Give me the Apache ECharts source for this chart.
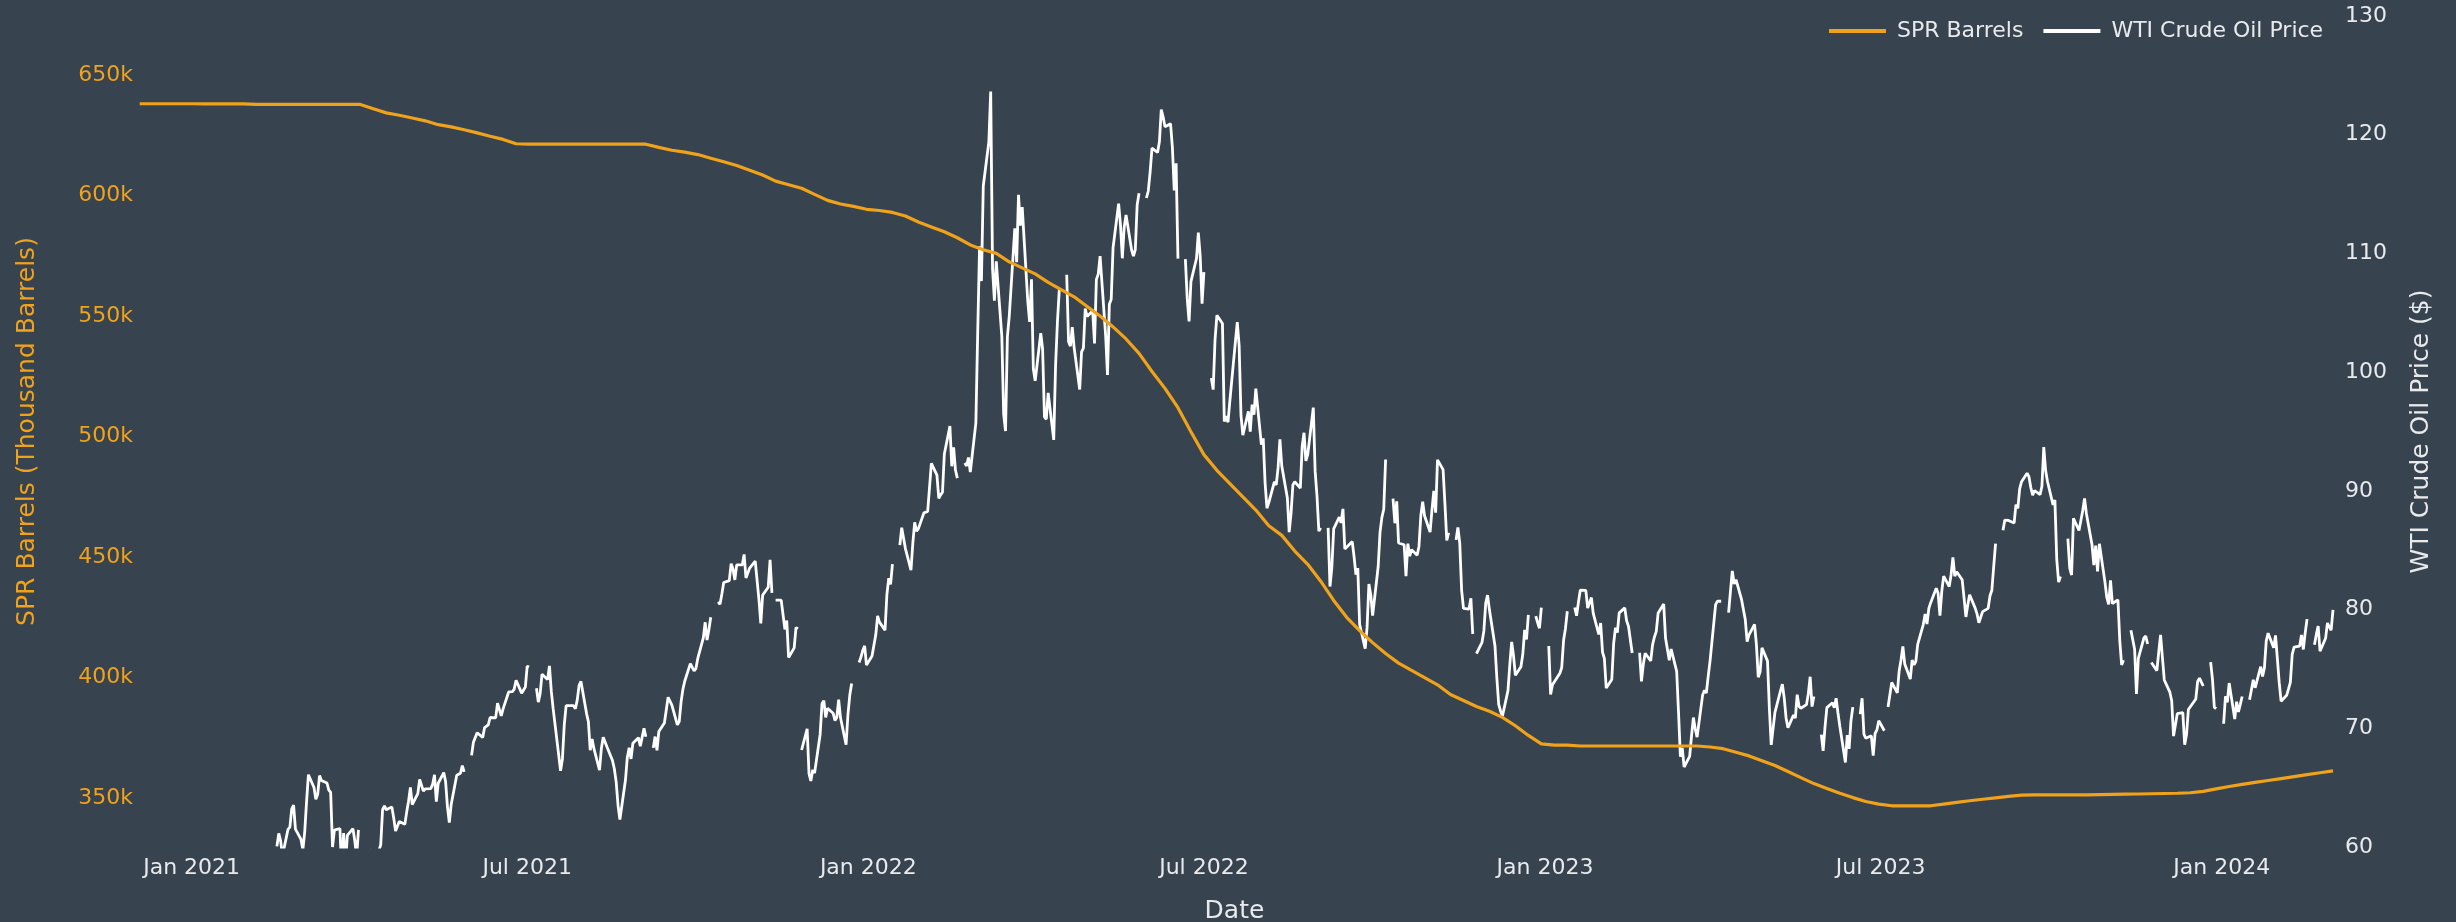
<!DOCTYPE html>
<html>
<head>
<meta charset="utf-8">
<script src="https://cdn.jsdelivr.net/npm/echarts@6/dist/echarts.min.js"></script>
<style>
html,body{margin:0;padding:0;background:#37434f;}
#chart{width:2456px;height:922px;}
</style>
</head>
<body>
<div id="chart"></div>
<script>
// ---------- axis ticks ----------
const xTickDates  = ['2021-01-01','2021-07-01','2022-01-01','2022-07-01','2023-01-01','2023-07-01','2024-01-01'];
const xTickLabels = ['Jan 2021','Jul 2021','Jan 2022','Jul 2022','Jan 2023','Jul 2023','Jan 2024'];
const sprTicks   = [350000,400000,450000,500000,550000,600000,650000];
const priceTicks = [60,70,80,90,100,110,120,130];
const xRange = ['2020-12-02','2024-03-01'];

// ---------- SPR stocks, weekly (Fridays), thousand barrels ----------
const sprStart = '2020-12-04';
const spr2020 = [638100,638100,638100,638100];
const spr2021 = [638100,638000,638000,638000,638000,
  637800,637800,637800,637800, 637800,637800,637800,637800,
  637800,636000,634300,633300,632200, 631000,629400,628500,627300,
  626000,624600,623300,621500, 621300,621300,621300,621300,621300,
  621300,621300,621300,621300, 621300,620000,618800,618000,
  617000,615500,614000,612500,610500, 608500,606000,604500,603000,
  600500,598000,596500,595500,594300];
const spr2022 = [593800,593000,591500,589000, 587000,585000,582500,579500,
  577500,576000,572500,570000, 567500,564000,561000,558000,554000,
  550000,545500,540500,534500, 527000,520000,512000,502000,
  492500,486000,480500,475000,469500, 463000,459000,452500,447000,
  440000,432000,425000,419500,414500, 410000,406000,403000,400000,
  397000,393000,390500,388000, 386000,383500,380000,376000,372500];
const spr2023 = [372000,372000,371600,371600, 371600,371600,371600,371600,
  371600,371600,371600,371600,371200, 370500,369000,367500,365500,
  363500,361000,358500,356000, 354000,352000,350200,348600,347500,
  346800,346800,346800,346800, 347500,348200,348900,349500,
  350100,350700,351200,351300,351300, 351300,351300,351300,351400,
  351500,351600,351700,351800, 351900,352000,352200,352800,353800];
const spr2024 = [354800,355700,356500,357300, 358100,358900,359700,360500, 361300];

// ---------- WTI daily price ($), business days Mon-Fri, null = no quote ----------
const wtiStart = '2021-02-01';
const wti2021 = [
  53.55,54.76,55.69,56.22,56.85, 57.97,58.36,58.68,58.24,59.47, null,60.05,61.14,60.52,59.26, 61.49,61.67,63.22,63.53,61.50,
  60.64,59.75,61.28,63.83,66.09, 65.01,64.01,64.44,66.02,65.61, 65.39,64.80,64.60,60.00,61.42, 61.56,57.76,61.18,58.56,60.97,
  61.55,60.55,59.16,61.45,null, 58.65,59.33,59.77,59.60,59.32, 59.70,60.18,63.15,63.46,63.13, 63.38,62.44,61.35,61.43,62.14,
  61.91,62.94,63.86,65.01,63.58, 64.49,65.69,65.63,64.71,64.90, 64.92,65.28,66.08,63.82,65.37, 66.27,65.49,63.36,62.05,63.58,
  66.05,66.07,66.21,66.85,66.32, null,67.72,68.83,68.81,69.62, 69.23,70.05,69.96,70.29,70.91, 70.88,72.12,72.15,71.04,71.64,
  73.06,73.06,73.08,73.30,74.05, 72.96,72.98,73.47,75.23,75.16, null,73.37,72.20,72.94,74.56, 74.10,75.25,73.13,71.65,71.81,
  66.42,67.42,70.30,71.91,72.07, 71.91,71.65,72.39,73.62,73.95, 71.26,70.56,68.15,69.09,68.28, 66.48,68.29,69.25,69.09,68.44,
  67.29,66.59,65.46,63.50,62.32, 65.64,67.54,68.36,67.42,68.74, 69.21,68.50,68.59,69.99,69.29, null,68.35,69.30,68.14,69.72,
  70.45,70.46,72.61,72.61,71.97, 70.29,70.56,72.23,73.30,73.98, 75.45,75.29,74.83,75.03,75.88, 77.62,78.93,77.43,78.30,79.35,
  null,80.64,80.44,81.31,82.28, 82.44,83.87,83.42,82.50,83.76, 83.76,84.65,82.66,82.81,83.50, 84.08,83.96,80.83,78.83,81.22,
  81.88,84.18,81.40,null,80.79, 80.80,80.75,78.33,79.07,75.96, 76.77,78.49,78.37,null,68.17, 69.95,66.18,65.56,66.50,66.22,
  69.48,72.07,72.33,70.92,71.69, 71.27,70.66,70.91,72.42,70.88, 68.61,71.16,72.80,73.77,null, 75.54,75.98,76.56,76.94,75.33];
const wti2022 = [
  76.08,76.99,77.85,79.46,78.94, 78.27,81.23,82.64,82.12,83.82, null,85.43,86.90,86.85,85.14, 83.31,85.60,87.35,86.61,86.82,
  88.15,88.20,88.26,90.27,92.31, 91.32,89.36,89.66,89.88,93.10, 95.46,92.07,93.66,91.76,91.07, null,92.35,92.10,92.81,91.59,
  95.72,103.41,110.60,107.67,115.68, 119.40,123.64,108.70,106.02,109.33, 103.01,96.44,95.04,102.98,104.70, 112.12,109.27,114.93,112.34,113.90,
  105.96,104.24,107.82,100.28,99.27, 103.28,101.96,96.23,96.03,98.26, 94.29,100.60,104.25,106.95,null, 108.21,102.56,102.19,103.79,102.07,
  98.54,101.70,102.02,105.36,104.69, 105.17,102.41,107.81,108.26,109.77, 103.09,99.76,105.71,106.13,110.49, 114.20,112.40,109.59,112.21,113.23,
  110.29,109.77,110.33,114.09,115.07, null,114.67,115.26,116.87,118.87, 118.50,119.41,122.11,121.51,120.67, 120.93,118.93,115.31,117.59,109.56,
  null,109.52,106.19,104.27,107.62, 109.57,111.76,109.78,105.76,108.43, null,99.50,98.53,102.73,104.79, 104.09,95.84,96.30,95.78,97.59,
  102.60,104.22,102.26,96.35,94.70, 96.70,94.98,97.26,96.42,98.62, 93.89,94.42,90.66,88.54,89.01, 90.76,90.50,91.93,94.34,92.09,
  89.41,86.53,88.11,90.50,90.77, 90.23,93.74,94.89,92.52,93.06, 97.01,91.64,89.55,86.61,86.87, null,86.88,81.94,83.54,86.79,
  87.78,87.31,88.48,85.10,85.11, 85.73,84.45,82.94,83.49,78.74, 76.71,78.50,82.15,81.23,79.49, 83.63,86.52,87.76,88.45,92.64,
  null,89.35,87.27,89.11,85.61, 85.46,82.82,85.55,84.51,85.05, 84.58,85.32,87.91,89.08,87.90, 86.53,88.37,90.00,88.17,92.61,
  91.79,88.91,85.83,86.47,null, 85.87,86.92,85.59,81.64,80.11, 80.04,80.95,77.94,null,76.28, 77.24,78.20,80.55,81.22,79.98,
  76.93,74.25,72.01,71.46,71.02, 73.17,75.39,77.28,76.11,74.46, 75.19,76.23,78.29,77.49,79.56, null,79.45,78.89,78.43,80.16];
const wti2023 = [
  null,76.93,72.84,73.67,73.77, 74.63,75.12,77.41,78.39,79.86, null,80.18,79.48,80.61,81.64, 81.62,80.13,80.15,81.01,79.68,
  77.90,78.87,76.41,75.88,73.39, 74.11,77.14,78.47,78.06,79.72, 80.14,79.06,78.59,78.49,76.34, null,76.36,73.95,75.39,76.32,
  75.68,77.05,77.69,78.16,79.72, 80.46,77.58,76.66,75.72,76.68, 74.80,71.33,67.61,68.35,66.74, 67.64,69.33,70.90,69.96,69.26,
  72.81,73.20,72.97,74.37,75.68, 80.42,80.71,80.61,80.70,null, 79.74,81.53,83.26,82.16,82.52, 80.83,80.86,79.16,77.29,77.87,
  78.76,77.07,74.30,74.76,76.78, 75.66,71.66,68.60,68.56,71.34, 73.16,73.71,72.56,70.87,70.04, 71.11,70.86,72.83,71.86,71.69,
  71.99,72.91,74.34,71.83,72.67, null,69.46,68.09,70.10,71.74, 72.15,71.74,72.53,71.29,70.17, 67.12,69.42,68.27,70.62,71.78,
  null,71.19,72.53,69.51,69.16, 69.37,67.70,69.56,69.86,70.64, 69.79,null,71.79,71.80,73.86, 72.99,74.83,75.75,76.89,75.42,
  74.15,75.75,75.35,75.63,77.07, 78.74,79.63,78.78,80.09,80.58, 81.80,81.37,79.49,81.55,82.82, 81.94,82.92,84.40,82.82,83.19,
  82.51,80.99,79.38,80.39,81.25, 80.12,79.64,78.89,79.05,79.83, 80.10,81.16,81.63,83.63,85.55, null,86.69,87.54,87.51,87.51,
  87.29,88.84,88.52,90.16,90.77, 91.48,91.20,90.28,89.63,90.03, 89.68,90.39,93.68,91.71,90.79, 88.82,89.23,84.22,82.31,82.79,
  null,85.97,83.49,82.91,87.69, 86.66,86.66,88.32,89.37,88.08, 85.49,83.74,85.39,83.21,85.54, 82.31,81.02,80.44,82.46,80.51,
  80.82,77.37,75.33,75.74,null, 78.26,78.26,76.66,72.90,75.89, 77.60,77.77,77.10,null,75.54, 74.86,76.41,77.86,75.96,74.07,
  73.04,72.32,69.34,69.34,71.23, 71.32,68.61,69.47,71.58,71.43, 72.47,73.94,74.22,73.89,73.56, null,75.57,74.11,71.77,71.65];
const wti2024 = [
  null,70.38,72.70,72.19,73.81, 70.77,72.24,71.37,72.02,72.68, null,72.40,72.56,74.08,73.41, 75.19,74.37,75.09,77.36,78.01,
  76.78,77.82,75.85,73.82,72.28, 72.78,73.31,73.86,76.22,76.84, 76.92,77.87,76.64,78.03,79.19, null,77.04,77.91,78.61,76.49,
  77.58,78.87,78.54,78.26,79.97];

// ---------- build series ----------
const DAY = 86400000;
function utc(s){const p=s.split('-').map(Number);return Date.UTC(p[0],p[1]-1,p[2]);}
const sprValues = [].concat(spr2020,spr2021,spr2022,spr2023,spr2024);
const sprData = sprValues.map((v,i)=>[utc(sprStart)+i*7*DAY, v]);
const wtiValues = [].concat(wti2021,wti2022,wti2023,wti2024);
const wtiData = wtiValues.map((v,i)=>{
  const week = Math.floor(i/5), d = i%5;
  return [utc(wtiStart)+(week*7+d)*DAY, v===null?'-':v];
});
const xTickTimes = xTickDates.map(utc);

const ORANGE = '#f0a21a';
const TXT = '#e8eaec';
const FONT = 'DejaVu Sans';

const chart = echarts.init(document.getElementById('chart'), null, {renderer:'canvas'});
chart.setOption({
  animation: false,
  backgroundColor: '#37434f',
  textStyle: {fontFamily: FONT},
  grid: {left:136, right:123, top:16, bottom:75, containLabel:false, outerBoundsMode:'none'},
  legend: {
    data: ['SPR Barrels','WTI Crude Oil Price'],
    left: 1824, top: 15,
    icon: 'rect', itemWidth: 57, itemHeight: 4, itemGap: 20,
    textStyle: {color: TXT, fontSize: 22, fontFamily: FONT, padding:[0,0,0,6]}
  },
  xAxis: {
    type: 'value',
    min: utc(xRange[0]), max: utc(xRange[1]),
    name: 'Date', nameLocation: 'middle', nameGap: 52,
    nameTextStyle: {color: TXT, fontSize: 25, fontFamily: FONT},
    axisLine: {show:false}, axisTick: {show:false}, splitLine: {show:false},
    axisLabel: {
      customValues: xTickTimes,
      color: TXT, fontSize: 22, margin: 10, fontFamily: FONT,
      formatter: function(v){ const k = xTickTimes.indexOf(v); return k>=0 ? xTickLabels[k] : ''; }
    }
  },
  yAxis: [
    {
      type: 'value', position: 'left',
      min: 329700, max: 674500,
      name: 'SPR Barrels (Thousand Barrels)', nameLocation: 'middle', nameGap: 96, nameRotate: 90,
      nameTextStyle: {color: ORANGE, fontSize: 25, fontFamily: FONT},
      axisLine: {show:false}, axisTick: {show:false}, splitLine: {show:false},
      axisLabel: {
        customValues: sprTicks,
        color: ORANGE, fontSize: 22, margin: 3, fontFamily: FONT,
        formatter: v => Math.round(v/1000) + 'k'
      }
    },
    {
      type: 'value', position: 'right',
      min: 60, max: 130, interval: 10,
      name: 'WTI Crude Oil Price ($)', nameLocation: 'middle', nameGap: 76, nameRotate: 90,
      nameTextStyle: {color: TXT, fontSize: 25, fontFamily: FONT},
      axisLine: {show:false}, axisTick: {show:false}, splitLine: {show:false},
      axisLabel: {
        customValues: priceTicks,
        color: TXT, fontSize: 22, margin: 12, fontFamily: FONT
      }
    }
  ],
  series: [
    {
      name: 'WTI Crude Oil Price', type: 'line', yAxisIndex: 1,
      data: wtiData, showSymbol: false, symbol: 'none', connectNulls: false, clip: true,
      lineStyle: {color: '#ffffff', width: 2.8}, itemStyle: {color: '#ffffff'}, z: 2
    },
    {
      name: 'SPR Barrels', type: 'line', yAxisIndex: 0,
      data: sprData, showSymbol: false, symbol: 'none', clip: true,
      lineStyle: {color: ORANGE, width: 3.2}, itemStyle: {color: ORANGE}, z: 3
    }
  ]
});
</script>
</body>
</html>
